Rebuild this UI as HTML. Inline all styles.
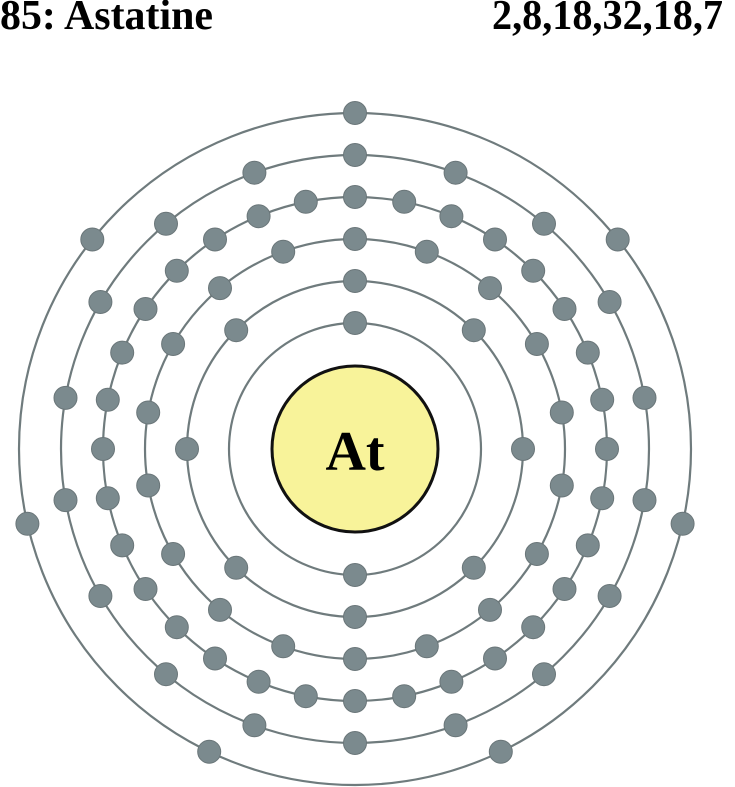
<!DOCTYPE html>
<html><head><meta charset="utf-8"><style>
html,body{margin:0;padding:0;background:#fff;width:735px;height:787px;overflow:hidden}
svg{display:block}
</style></head><body>
<svg id="s" width="735" height="787" xmlns="http://www.w3.org/2000/svg">
<text x="0" y="29" font-family="Liberation Serif, serif" font-weight="bold" font-size="42" fill="#000" textLength="213" lengthAdjust="spacingAndGlyphs">85: Astatine</text>
<text x="492" y="29" font-family="Liberation Serif, serif" font-weight="bold" font-size="42" fill="#000" textLength="231" lengthAdjust="spacingAndGlyphs">2,8,18,32,18,7</text>
<g id="g"></g>
<circle cx="355" cy="449" r="83" fill="#f8f39a" stroke="#111" stroke-width="3"/>
<text x="355" y="470" text-anchor="middle" font-family="Liberation Serif, serif" font-weight="bold" font-size="56" fill="#000">At</text>
</svg>
<script>
var g=document.getElementById('g'),cx=355,cy=449,h='';
var sh=[[126,2],[168,8],[210,18],[252,32],[294,18],[336,7]];
sh.forEach(function(s){h+='<circle cx="'+cx+'" cy="'+cy+'" r="'+s[0]+'" fill="none" stroke="#6f7b7d" stroke-width="2.2"/>';});
sh.forEach(function(s){for(var i=0;i<s[1];i++){var a=2*Math.PI*i/s[1];var x=cx+s[0]*Math.sin(a),y=cy-s[0]*Math.cos(a);
h+='<circle cx="'+x.toFixed(1)+'" cy="'+y.toFixed(1)+'" r="11.5" fill="#7b8a8e" stroke="#6a7679" stroke-width="1"/>';}});
g.innerHTML=h;
</script>
</body></html>
